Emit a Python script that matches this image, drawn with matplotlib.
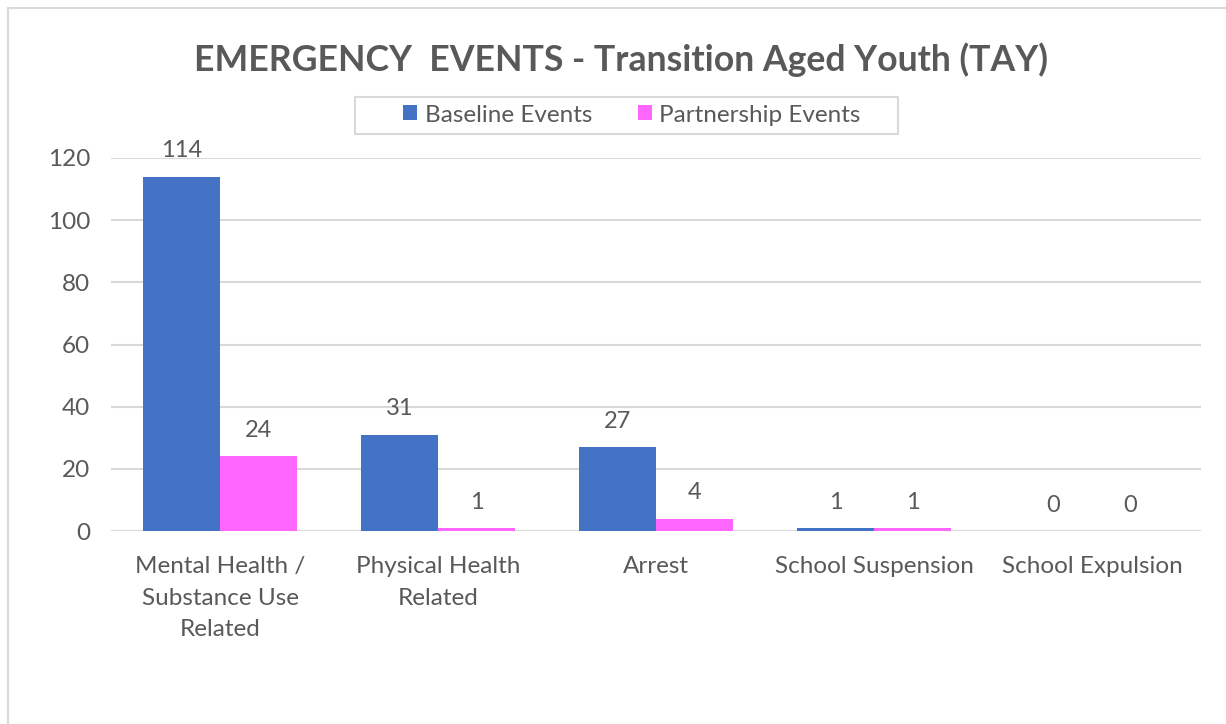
import matplotlib
matplotlib.use("Agg")
import matplotlib.pyplot as plt
from matplotlib.patches import Rectangle
import numpy as np

categories = ["Mental Health /\nSubstance Use\nRelated", "Physical Health\nRelated", "Arrest",
              "School Suspension", "School Expulsion"]
baseline = [114, 31, 27, 1, 0]
partnership = [24, 1, 4, 1, 0]
yticks = [0, 20, 40, 60, 80, 100, 120]

BLUE = "#4472C4"
PINK = "#FF66FF"
GREY = "#595959"
GRID = "#D9D9D9"

plt.rcParams["font.family"] = ["Lato", "DejaVu Sans"]

fig = plt.figure(figsize=(12.26, 7.24), dpi=100)
W, H = 1226, 724
ax = fig.add_axes([111 / W, 1 - 531 / H, (1201 - 111) / W, (531 - 158) / H])

# outer chart border (only left/top visible in the crop)
fig.patches.append(Rectangle((8 / W, -0.1), 1.2, 1 - 8 / H + 0.1, transform=fig.transFigure,
                             fill=False, edgecolor=GRID, linewidth=1.5))
# legend box
fig.patches.append(Rectangle((355 / W, 1 - 134 / H), (898 - 355) / W, 37 / H,
                             transform=fig.transFigure, fill=False, edgecolor=GRID,
                             linewidth=1.5))

x = np.arange(len(categories))
bw = 0.353
b1 = ax.bar(x - bw / 2, baseline, bw, color=BLUE, label="Baseline Events")
b2 = ax.bar(x + bw / 2, partnership, bw, color=PINK, label="Partnership Events")

for bars, vals in ((b1, baseline), (b2, partnership)):
    for rect, v in zip(bars, vals):
        ax.annotate(f"{v}", (rect.get_x() + rect.get_width() / 2, v), xytext=(0, 11),
                    textcoords="offset points", ha="center", va="bottom",
                    fontsize=17, color=GREY)

ax.set_xlim(-0.5, len(categories) - 0.5)
ax.set_ylim(0, 120)
ax.set_yticks(yticks)
ax.set_xticks(x)
ax.set_xticklabels(categories, fontsize=17.5, color=GREY, linespacing=1.62)
ax.tick_params(axis="y", labelsize=17.5, labelcolor=GREY, length=0, pad=15)
ax.tick_params(axis="x", length=0, pad=18)
ax.grid(axis="y", color=GRID, linewidth=1.5)
ax.set_axisbelow(True)
for s in ax.spines.values():
    s.set_visible(False)

fig.text(621 / W, 1 - 60 / H, "EMERGENCY  EVENTS - Transition Aged Youth (TAY)", ha="center",
         va="center", fontsize=25.7, fontweight="bold", color=GREY)

leg = fig.legend(loc="center", bbox_to_anchor=(632 / W, 1 - 115 / H), ncol=2, fontsize=17.5,
                 frameon=False, handlelength=0.58, handleheight=0.58, handletextpad=0.3,
                 columnspacing=1.9, borderpad=0.2, borderaxespad=0)
for t in leg.get_texts():
    t.set_color(GREY)

fig.savefig("out.png", dpi=100)
